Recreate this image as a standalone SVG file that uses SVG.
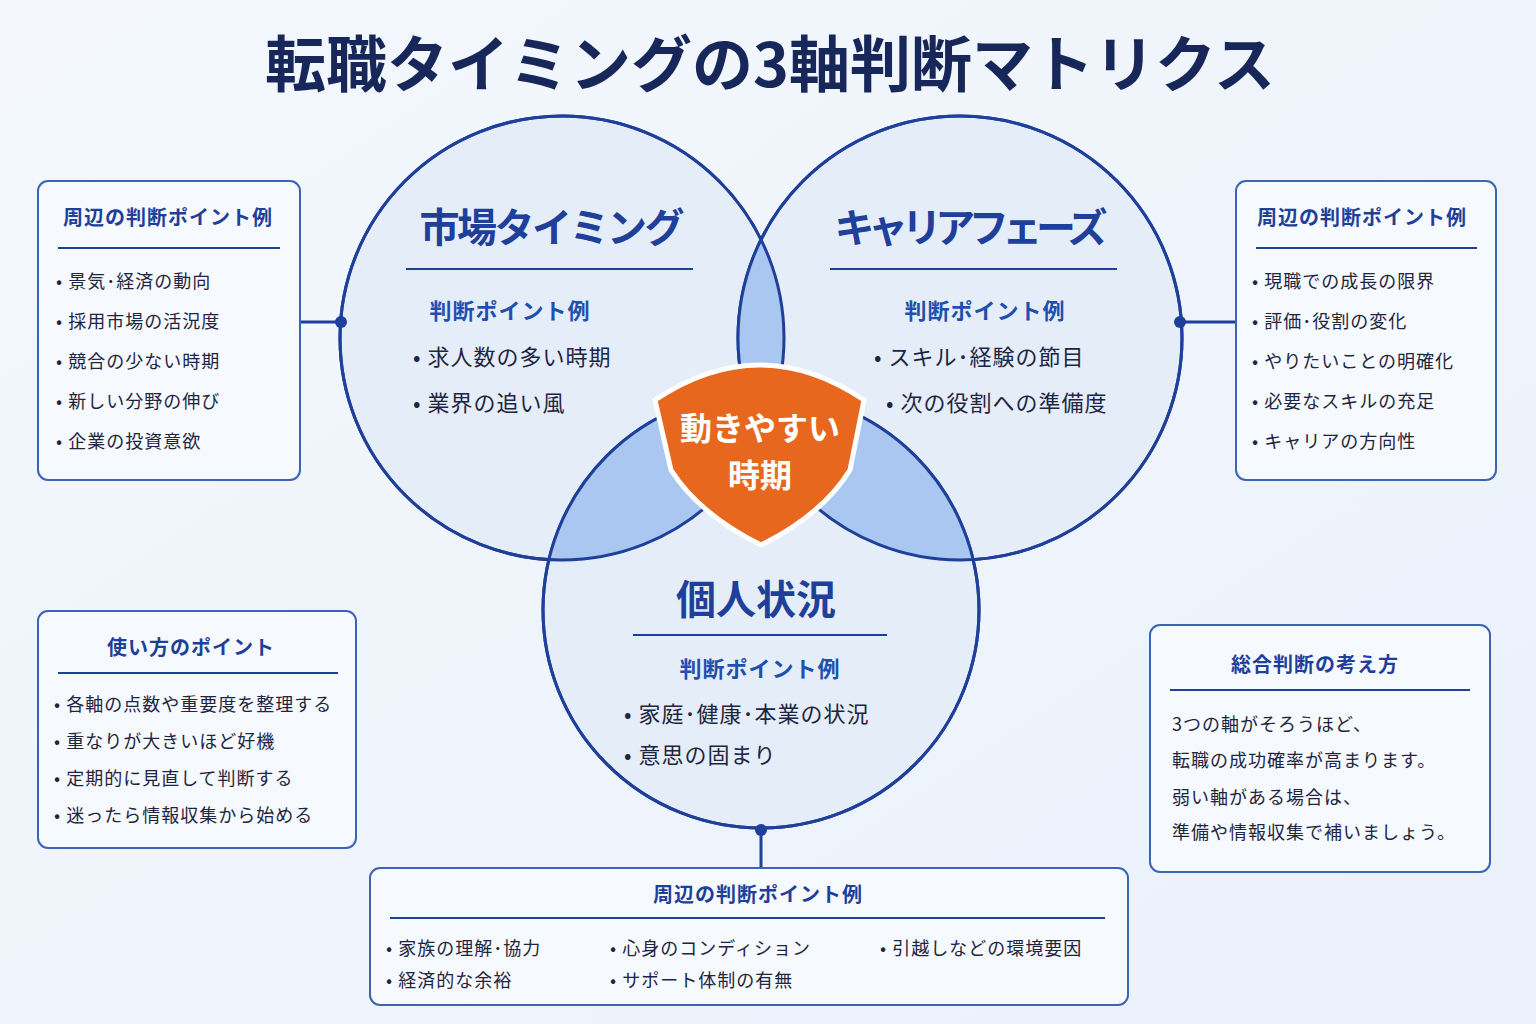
<svg xmlns="http://www.w3.org/2000/svg" width="1536" height="1024" viewBox="0 0 1536 1024">
<defs>
<linearGradient id="bg" x1="0" y1="0" x2="1" y2="1"><stop offset="0" stop-color="#f4f8fd"/><stop offset="1" stop-color="#eaf1fb"/></linearGradient>
<clipPath id="c1"><circle cx="562" cy="338" r="222"/></clipPath>
<clipPath id="c2"><circle cx="960" cy="338" r="222"/></clipPath>
<style>
text{font-family:"Noto Sans CJK JP","Noto Sans",sans-serif}
.circ{fill:#e5edf9;stroke:#1e3f9a;stroke-width:3}
.ov{fill:#a9c7f1}
.box{fill:#f6f9fe;stroke:#3d63b5;stroke-width:2}
.bt{font-size:20px;font-weight:bold;fill:#1e3f9a;text-anchor:middle;letter-spacing:1px}
.it{font-size:18px;fill:#1d2540;letter-spacing:1px}
.ct{font-size:40px;font-weight:bold;fill:#1e3f9a;text-anchor:middle}
.sub{font-size:22px;font-weight:bold;fill:#1e50b0;text-anchor:middle;letter-spacing:1px}
.ci{font-size:22px;fill:#1d2540;letter-spacing:1px}
.ln{stroke:#1e3f9a;stroke-width:2}
.cn{stroke:#1e3f9a;stroke-width:3}
</style>
</defs>
<rect width="1536" height="1024" fill="url(#bg)"/>
<text x="770" y="87" font-size="61" font-weight="bold" fill="#17275a" text-anchor="middle">転職タイミングの3軸判断マトリクス</text>

<g id="circles">
<circle class="circ" cx="562" cy="338" r="222"/>
<circle class="circ" cx="960" cy="338" r="222"/>
<circle class="circ" cx="761" cy="610" r="218"/>
<g clip-path="url(#c1)"><circle class="ov" cx="960" cy="338" r="222"/><circle class="ov" cx="761" cy="610" r="218"/></g>
<g clip-path="url(#c2)"><circle class="ov" cx="761" cy="610" r="218"/></g>
<circle cx="562" cy="338" r="222" fill="none" stroke="#1e3f9a" stroke-width="3"/>
<circle cx="960" cy="338" r="222" fill="none" stroke="#1e3f9a" stroke-width="3"/>
<circle cx="761" cy="610" r="218" fill="none" stroke="#1e3f9a" stroke-width="3"/>
</g>

<g id="market">
<text class="ct" x="552" y="242" textLength="265">市場タイミング</text>
<line class="ln" x1="406" y1="269" x2="693" y2="269"/>
<text class="sub" x="510" y="319">判断ポイント例</text>
<text class="ci" x="413" y="365">•  求人数の多い時期</text>
<text class="ci" x="413" y="411">•  業界の追い風</text>
</g>
<g id="career">
<text class="ct" x="971" y="242" textLength="273">キャリアフェーズ</text>
<line class="ln" x1="830" y1="269" x2="1117" y2="269"/>
<text class="sub" x="985" y="319">判断ポイント例</text>
<text class="ci" x="874" y="365">•  スキル･経験の節目</text>
<text class="ci" x="886" y="411">•  次の役割への準備度</text>
</g>
<g id="personal">
<text class="ct" x="756" y="614">個人状況</text>
<line class="ln" x1="633" y1="635" x2="887" y2="635"/>
<text class="sub" x="760" y="677">判断ポイント例</text>
<text class="ci" x="624" y="722">•  家庭･健康･本業の状況</text>
<text class="ci" x="624" y="763">•  意思の固まり</text>
</g>

<g id="center">
<path d="M655 400 Q760 330 864 400 L850 470 Q822 515 761 545 Q700 515 671 470 Z" fill="#e8671e" stroke="#ffffff" stroke-width="5"/>
<text x="760" y="440" font-size="32" font-weight="bold" fill="#fff" text-anchor="middle">動きやすい</text>
<text x="760" y="487" font-size="32" font-weight="bold" fill="#fff" text-anchor="middle">時期</text>
</g>

<g id="connectors">
<line class="cn" x1="300" y1="322" x2="340" y2="322"/><circle cx="341" cy="322" r="6" fill="#1e3f9a"/>
<line class="cn" x1="1182" y1="322" x2="1236" y2="322"/><circle cx="1180" cy="322" r="6" fill="#1e3f9a"/>
<line class="cn" x1="761" y1="830" x2="761" y2="868"/><circle cx="761" cy="830" r="6" fill="#1e3f9a"/>
</g>

<g id="left-box">
<rect class="box" x="38" y="181" width="262" height="299" rx="10"/>
<text class="bt" x="168" y="225">周辺の判断ポイント例</text>
<line class="ln" x1="58" y1="248" x2="280" y2="248"/>
<text class="it" x="56" y="288">•  景気･経済の動向</text>
<text class="it" x="56" y="328">•  採用市場の活況度</text>
<text class="it" x="56" y="368">•  競合の少ない時期</text>
<text class="it" x="56" y="408">•  新しい分野の伸び</text>
<text class="it" x="56" y="448">•  企業の投資意欲</text>
</g>
<g id="right-box">
<rect class="box" x="1236" y="181" width="260" height="299" rx="10"/>
<text class="bt" x="1362" y="225">周辺の判断ポイント例</text>
<line class="ln" x1="1256" y1="248" x2="1477" y2="248"/>
<text class="it" x="1252" y="288">•  現職での成長の限界</text>
<text class="it" x="1252" y="328">•  評価･役割の変化</text>
<text class="it" x="1252" y="368">•  やりたいことの明確化</text>
<text class="it" x="1252" y="408">•  必要なスキルの充足</text>
<text class="it" x="1252" y="448">•  キャリアの方向性</text>
</g>
<g id="usage-box">
<rect class="box" x="38" y="611" width="318" height="237" rx="10"/>
<text class="bt" x="191" y="655">使い方のポイント</text>
<line class="ln" x1="58" y1="673" x2="338" y2="673"/>
<text class="it" x="54" y="711">• 各軸の点数や重要度を整理する</text>
<text class="it" x="54" y="748">• 重なりが大きいほど好機</text>
<text class="it" x="54" y="785">• 定期的に見直して判断する</text>
<text class="it" x="54" y="822">• 迷ったら情報収集から始める</text>
</g>
<g id="summary-box">
<rect class="box" x="1150" y="625" width="340" height="247" rx="10"/>
<text class="bt" x="1315" y="672" font-size="22">総合判断の考え方</text>
<line class="ln" x1="1170" y1="690" x2="1470" y2="690"/>
<text class="it" x="1172" y="731">3つの軸がそろうほど、</text>
<text class="it" x="1172" y="767">転職の成功確率が高まります。</text>
<text class="it" x="1172" y="804">弱い軸がある場合は、</text>
<text class="it" x="1172" y="839">準備や情報収集で補いましょう。</text>
</g>
<g id="bottom-box">
<rect class="box" x="370" y="868" width="758" height="137" rx="10"/>
<text class="bt" x="758" y="902">周辺の判断ポイント例</text>
<line class="ln" x1="390" y1="918" x2="1105" y2="918"/>
<text class="it" x="386" y="955">•  家族の理解･協力</text>
<text class="it" x="610" y="955">•  心身のコンディション</text>
<text class="it" x="880" y="955">•  引越しなどの環境要因</text>
<text class="it" x="386" y="987">•  経済的な余裕</text>
<text class="it" x="610" y="987">•  サポート体制の有無</text>
</g>
</svg>
